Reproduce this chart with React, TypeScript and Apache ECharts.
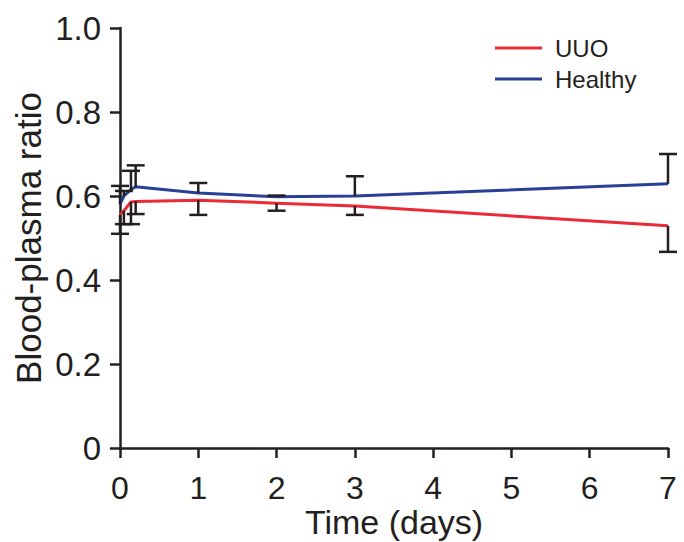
import React, { useEffect, useRef } from "react";
import * as echarts from "echarts";

const times = [0, 0.05, 0.14, 0.2, 1, 2, 3, 7];
const uuoValues = [0.555, 0.565, 0.586, 0.587, 0.59, 0.583, 0.576, 0.529];
const uuoErrDown = [0.045, 0.032, 0.053, 0.03, 0.035, 0.018, 0.021, 0.062];
const healthyValues = [0.58, 0.6, 0.615, 0.622, 0.607, 0.598, 0.6, 0.629];
const healthyErrUp = [0.044, 0.012, 0.045, 0.051, 0.024, 0.003, 0.047, 0.071];
const xTicks = [0, 1, 2, 3, 4, 5, 6, 7];
const yTicks = [0, 0.2, 0.4, 0.6, 0.8, 1.0];

const FONT = "'Liberation Sans', Arial, Helvetica, sans-serif";
const INK = "#231f20";

export default function App() {
  const ref = useRef<HTMLDivElement>(null);
  useEffect(() => {
    if (!ref.current) return;
    const chart = echarts.init(ref.current, undefined, { renderer: "svg" });
    const uuoLine = times.map((t, i) => [t, uuoValues[i]]);
    const healthyLine = times.map((t, i) => [t, healthyValues[i]]);
    const errData = [
      ...times.map((t, i) => [t, healthyValues[i], healthyValues[i] + healthyErrUp[i]]),
      ...times.map((t, i) => [t, uuoValues[i], uuoValues[i] - uuoErrDown[i]]),
    ];
    const capHalf = 9;
    chart.setOption({
      animation: false,
      grid: {
        left: 120,
        right: 16,
        top: 28,
        bottom: 94,
        containLabel: false,
        outerBoundsMode: "none",
      },
      legend: {
        data: ["UUO", "Healthy"],
        orient: "vertical",
        left: 490,
        top: 31,
        icon: "rect",
        itemWidth: 47,
        itemHeight: 3,
        itemGap: 7,
        textStyle: { fontFamily: FONT, fontSize: 24, color: INK, padding: [0, 0, 0, 8] },
      },
      xAxis: {
        type: "value",
        min: xTicks[0],
        max: xTicks[xTicks.length - 1],
        interval: 1,
        name: "Time (days)",
        nameLocation: "middle",
        nameGap: 60,
        nameMoveOverlap: false,
        nameTextStyle: { fontFamily: FONT, fontSize: 34, lineHeight: 28, color: INK },
        splitLine: { show: false },
        axisLine: { onZero: false, lineStyle: { color: INK, width: 2.5 } },
        axisTick: { length: 10, lineStyle: { color: INK, width: 2.5 } },
        axisLabel: { fontFamily: FONT, fontSize: 32, lineHeight: 26, color: INK, margin: 27 },
      },
      yAxis: {
        type: "value",
        min: yTicks[0],
        max: yTicks[yTicks.length - 1],
        interval: 0.2,
        name: "Blood-plasma ratio",
        nameLocation: "middle",
        nameGap: 74,
        nameMoveOverlap: false,
        nameTextStyle: { fontFamily: FONT, fontSize: 35, color: INK },
        splitLine: { show: false },
        axisLine: { show: true, onZero: false, lineStyle: { color: INK, width: 2.5 } },
        axisTick: { show: true, length: 10, lineStyle: { color: INK, width: 2.5 } },
        axisLabel: {
          fontFamily: FONT,
          fontSize: 33,
          color: INK,
          margin: 19,
          formatter: (v: number) => (v === 0 ? "0" : v.toFixed(1)),
        },
      },
      series: [
        {
          name: "UUO",
          type: "line",
          data: uuoLine,
          symbol: "none",
          color: "#ec2a36",
          lineStyle: { width: 3, color: "#ec2a36" },
          z: 2,
        },
        {
          name: "Healthy",
          type: "line",
          data: healthyLine,
          symbol: "none",
          color: "#2a3f98",
          lineStyle: { width: 3, color: "#2a3f98" },
          z: 2,
        },
        {
          name: "err",
          type: "custom",
          data: errData,
          encode: { x: 0, y: [1, 2] },
          z: 3,
          renderItem: (params: any, api: any) => {
            const x = api.value(0);
            const a = api.coord([x, api.value(1)]);
            const b = api.coord([x, api.value(2)]);
            const style = { stroke: INK, lineWidth: 2.5 };
            return {
              type: "group",
              children: [
                { type: "line", shape: { x1: a[0], y1: a[1], x2: b[0], y2: b[1] }, style },
                { type: "line", shape: { x1: b[0] - capHalf, y1: b[1], x2: b[0] + capHalf, y2: b[1] }, style },
              ],
            };
          },
        },
      ],
    });
    return () => chart.dispose();
  }, []);
  return (
    <div
      ref={ref}
      style={{ position: "fixed", left: 0, top: 0, width: 684, height: 542, background: "#fff" }}
    />
  );
}
